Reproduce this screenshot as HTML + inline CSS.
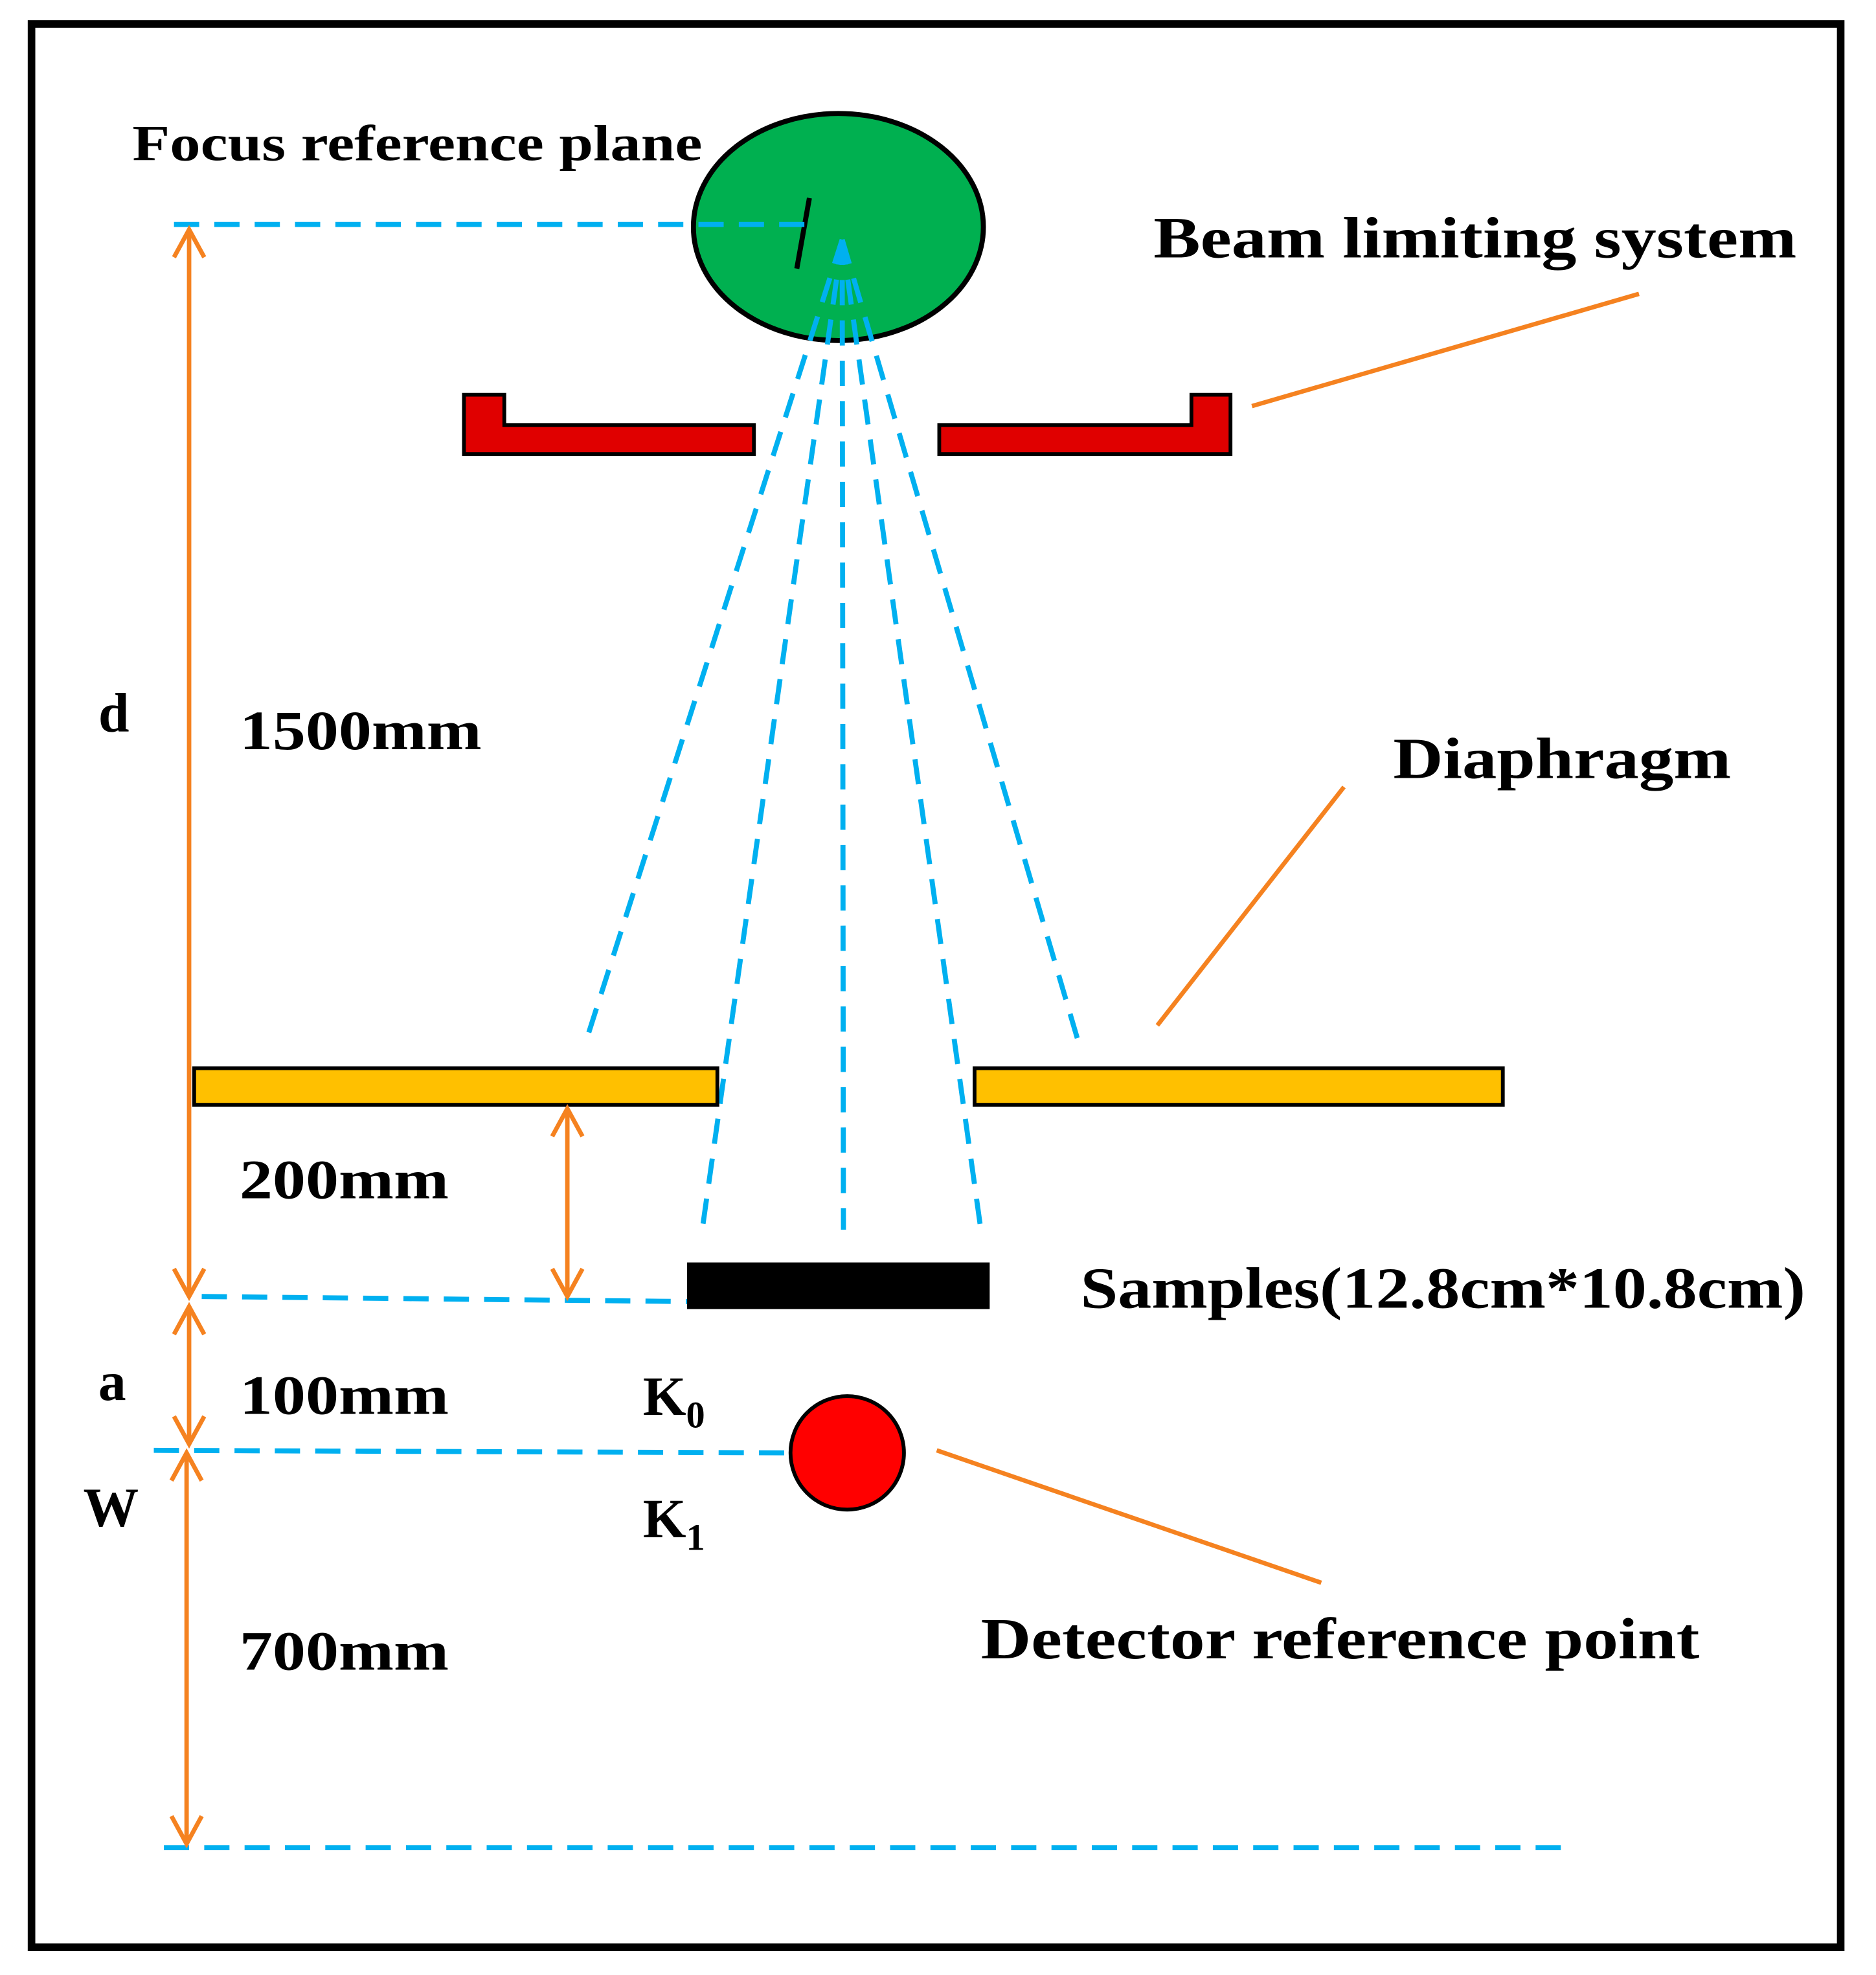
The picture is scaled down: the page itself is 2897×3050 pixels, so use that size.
<!DOCTYPE html>
<html><head><meta charset="utf-8"><style>html,body{margin:0;padding:0;background:#fff}svg{display:block}</style></head>
<body>
<svg width="2897" height="3050" viewBox="0 0 1488 1566" preserveAspectRatio="none" xmlns="http://www.w3.org/2000/svg">
<rect x="0" y="0" width="1488" height="1566" fill="#fff"/>
<rect x="25" y="19" width="1435" height="1525" fill="none" stroke="#000" stroke-width="6"/>
<g font-family="'Liberation Serif', serif" font-weight="bold" fill="#000" transform="translate(0,-3)">
<text x="105" y="130" font-size="40" textLength="452" lengthAdjust="spacingAndGlyphs">Focus reference plane</text>
<text x="915" y="207" font-size="46" textLength="510" lengthAdjust="spacingAndGlyphs">Beam limiting system</text>
<text x="1105" y="620" font-size="46" textLength="268" lengthAdjust="spacingAndGlyphs">Diaphragm</text>
<text x="190" y="597" font-size="44" textLength="192" lengthAdjust="spacingAndGlyphs">1500mm</text>
<text x="78" y="583" font-size="44">d</text>
<text x="190" y="953" font-size="44" textLength="166" lengthAdjust="spacingAndGlyphs">200mm</text>
<text x="857" y="1040" font-size="46" textLength="575" lengthAdjust="spacingAndGlyphs">Samples(12.8cm*10.8cm)</text>
<text x="78" y="1113" font-size="44">a</text>
<text x="190" y="1124" font-size="44" textLength="166" lengthAdjust="spacingAndGlyphs">100mm</text>
<text x="510" y="1125" font-size="44">K<tspan font-size="30" dy="10">0</tspan></text>
<text x="66" y="1213" font-size="44">W</text>
<text x="510" y="1222" font-size="44">K<tspan font-size="30" dy="10">1</tspan></text>
<text x="190" y="1327" font-size="44" textLength="166" lengthAdjust="spacingAndGlyphs">700mm</text>
<text x="778" y="1318" font-size="46" textLength="570" lengthAdjust="spacingAndGlyphs">Detector reference point</text>
</g>
<ellipse cx="665" cy="180" rx="115" ry="90" fill="#00b050" stroke="#000" stroke-width="4"/>
<line x1="642" y1="157" x2="632" y2="213" stroke="#000" stroke-width="4"/>
<g stroke="#00b0f0" stroke-width="4" stroke-dasharray="20 12" fill="none">
<line x1="138" y1="178" x2="640" y2="178"/>
<line x1="668" y1="190" x2="465" y2="825"/>
<line x1="668" y1="190" x2="557" y2="975"/>
<line x1="668" y1="190" x2="669" y2="975"/>
<line x1="668" y1="190" x2="778" y2="975"/>
<line x1="668" y1="190" x2="855" y2="825"/>
<line x1="160" y1="1028" x2="545" y2="1032"/>
<line x1="122" y1="1150" x2="628" y2="1152"/>
<line x1="130" y1="1465" x2="1245" y2="1465"/>
</g>
<polygon points="368,313 400,313 400,337 598,337 598,360 368,360" fill="#e00000" stroke="#000" stroke-width="3"/>
<polygon points="745,337 945,337 945,313 976,313 976,360 745,360" fill="#e00000" stroke="#000" stroke-width="3"/>
<rect x="154" y="847" width="415" height="29" fill="#ffc000" stroke="#000" stroke-width="3"/>
<rect x="773" y="847" width="419" height="29" fill="#ffc000" stroke="#000" stroke-width="3"/>
<rect x="545" y="1001" width="240" height="37" fill="#000"/>
<circle cx="672" cy="1152" r="45" fill="#ff0000" stroke="#000" stroke-width="3"/>
<g stroke="#f58220" stroke-width="3.5" fill="none">
<line x1="993" y1="322" x2="1300" y2="233"/>
<line x1="918" y1="813" x2="1066" y2="624"/>
<line x1="743" y1="1150" x2="1048" y2="1255"/>
<line x1="150" y1="182" x2="150" y2="1028"/>
<polyline points="138,204 150,182 162,204"/><polyline points="138,1006 150,1028 162,1006"/>
<line x1="450" y1="879" x2="450" y2="1028"/>
<polyline points="438,901 450,879 462,901"/><polyline points="438,1006 450,1028 462,1006"/>
<line x1="150" y1="1036" x2="150" y2="1145"/>
<polyline points="138,1058 150,1036 162,1058"/><polyline points="138,1123 150,1145 162,1123"/>
<line x1="148" y1="1152" x2="148" y2="1462"/>
<polyline points="136,1174 148,1152 160,1174"/><polyline points="136,1440 148,1462 160,1440"/>
</g>
</svg>
</body></html>
